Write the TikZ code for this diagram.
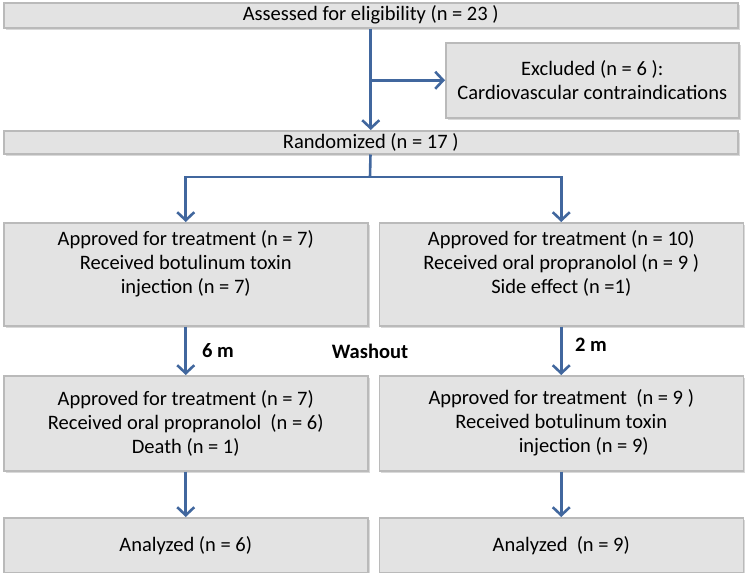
\documentclass[tikz,border=0pt]{standalone}
\usepackage{fontspec}
\setmainfont{Carlito}
\usetikzlibrary{arrows.meta, positioning, shadows}
\definecolor{boxfill}{HTML}{E3E3E3}
\definecolor{boxline}{HTML}{BABABA}
\definecolor{flowblue}{HTML}{41679E}

\begin{document}
\begin{tikzpicture}[
  x=1pt, y=-1pt,
  box/.style={rectangle, draw=boxline, line width=1.5pt, fill=boxfill,
              anchor=north west, align=center, inner sep=1pt,
              font=\fontsize{20.5}{24}\selectfont,
              drop shadow={shadow xshift=2pt, shadow yshift=-2pt, opacity=.3}},
  colbox/.style={box, minimum width=364pt},
  tag/.style={font=\fontsize{20.5}{24}\selectfont\bfseries},
  arrow2/.style={-{Straight Barb[length=8pt, width=17pt]}, line width=2.6pt, color=flowblue},
  link/.style={line width=2.6pt, color=flowblue}
]
  \useasboundingbox (0,0) rectangle (750,573);

  \node[box, minimum width=734pt, minimum height=25pt] (assess) at (3,2) {Assessed for eligibility (n = 23 )};
  \node[box, minimum width=293pt, minimum height=75pt] (excl) at (445,42) {Excluded (n = 6 ):\\Cardiovascular contraindications};
  \node[box, minimum width=734pt, minimum height=23pt] (rand) at (3,130) {Randomized (n = 17 )};

  \node[colbox, minimum height=103pt] (treatA) at (3,222) {Approved for treatment (n = 7)\\Received botulinum toxin\\injection (n = 7)\\~};
  \node[colbox, minimum height=103pt, right=10pt of treatA] (treatB) {Approved for treatment (n = 10)\\Received oral propranolol (n = 9 )\\Side effect (n =1)\\~};

  \node[colbox, minimum height=95pt] (switchA) at (3,375) {Approved for treatment (n = 7)\\Received oral propranolol\ \ (n = 6)\\Death (n = 1)};
  \node[colbox, minimum height=95pt, right=10pt of switchA] (switchB) {Approved for treatment\ \ (n = 9 )\\Received botulinum toxin\\\hspace*{45pt}injection (n = 9)};

  \node[colbox, minimum height=55pt] (doneA) at (3,517) {Analyzed (n = 6)};
  \node[colbox, minimum height=55pt, right=10pt of doneA] (doneB) {Analyzed\ \ (n = 9)};

  \node[tag] (lagA) at (218,351) {6 m};
  \node[tag] (washout) at (370,351) {Washout};
  \node[tag] (lagB) at (591,345) {2 m};

  \coordinate (split) at (370,177);

  \draw[arrow2] (assess) -- (rand);
  \draw[arrow2] (assess.south |- excl.west) -- (excl.west);
  \draw[link] (rand) -- (split);
  \draw[arrow2] (split) -| (treatA.north);
  \draw[arrow2] (split) -| (treatB.north);
  \draw[arrow2] (treatA) -- (switchA);
  \draw[arrow2] (treatB) -- (switchB);
  \draw[arrow2] (switchA) -- (doneA);
  \draw[arrow2] (switchB) -- (doneB);
\end{tikzpicture}
\end{document}
